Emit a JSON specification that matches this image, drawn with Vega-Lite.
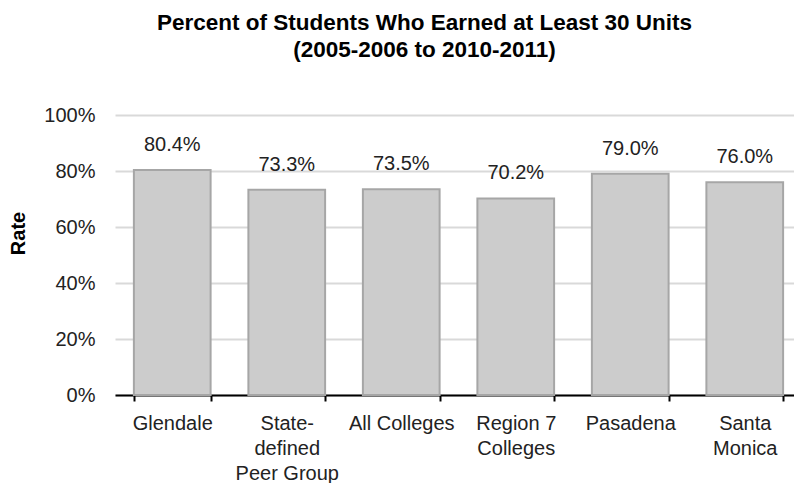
{
  "$schema": "https://vega.github.io/schema/vega-lite/v6.json",
  "autosize": {"type": "none"},
  "padding": {"left": 115, "top": 115, "right": 0, "bottom": 88},
  "width": 679,
  "height": 280,
  "background": "white",
  "config": {"view": {"stroke": null}, "font": "Liberation Sans"},
  "title": {
    "text": ["Percent of Students Who Earned at Least 30 Units", "(2005-2006 to 2010-2011)"],
    "fontSize": 22.5,
    "fontWeight": "bold",
    "color": "#000000",
    "lineHeight": 27,
    "anchor": "middle",
    "dx": -30,
    "offset": 44
  },
  "data": {
    "values": [
      {"name": "Glendale", "rate": 0.804},
      {"name": "State-defined Peer Group", "rate": 0.733},
      {"name": "All Colleges", "rate": 0.735},
      {"name": "Region 7 Colleges", "rate": 0.702},
      {"name": "Pasadena", "rate": 0.790},
      {"name": "Santa Monica", "rate": 0.760}
    ]
  },
  "encoding": {
    "x": {
      "field": "name",
      "type": "nominal",
      "sort": null,
      "scale": {"range": [0, 687], "paddingInner": 0.33, "paddingOuter": 0.165},
      "axis": {
        "title": null,
        "labelAngle": 0,
        "labelFontSize": 20,
        "labelColor": "#222222",
        "labelLineHeight": 25,
        "labelPadding": 12,
        "labelBaseline": "top",
        "tickBand": "extent",
        "tickSize": 6,
        "tickWidth": 2,
        "tickColor": "#000000",
        "domainColor": "#000000",
        "domainWidth": 2,
        "grid": false,
        "labelExpr": "datum.value == 'State-defined Peer Group' ? ['State-','defined','Peer Group'] : datum.value == 'Region 7 Colleges' ? ['Region 7','Colleges'] : datum.value == 'Santa Monica' ? ['Santa','Monica'] : datum.value"
      }
    },
    "y": {
      "field": "rate",
      "type": "quantitative",
      "scale": {"domain": [0, 1], "nice": false},
      "axis": {
        "title": "Rate",
        "titleFontSize": 20,
        "titleFontWeight": "bold",
        "titleColor": "#000000",
        "titleX": -97,
        "titleY": 118,
        "titleAngle": -90,
        "titleAlign": "center",
        "titleBaseline": "middle",
        "values": [0, 0.2, 0.4, 0.6, 0.8, 1],
        "format": ".0%",
        "labelFontSize": 20,
        "labelColor": "#222222",
        "labelPadding": 20,
        "ticks": false,
        "domain": false,
        "gridColor": "#d9d9d9",
        "gridWidth": 2
      }
    }
  },
  "layer": [
    {
      "mark": {"type": "bar", "fill": "#cccccc", "stroke": "#a6a6a6", "strokeWidth": 2}
    },
    {
      "mark": {"type": "text", "fontSize": 20, "color": "#222222", "baseline": "alphabetic", "dy": -19},
      "encoding": {"text": {"field": "rate", "type": "quantitative", "format": ".1%"}}
    }
  ]
}
